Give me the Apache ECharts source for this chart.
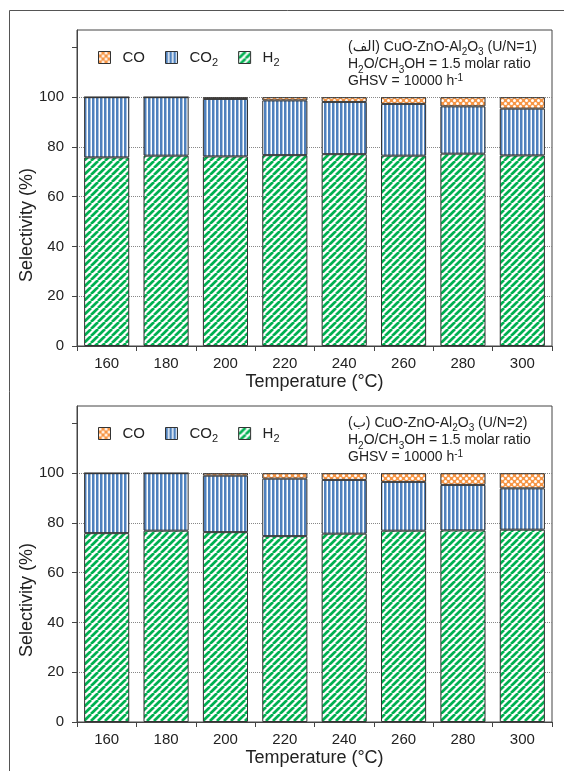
<!DOCTYPE html>
<html><head><meta charset="utf-8">
<script src="https://cdn.jsdelivr.net/npm/echarts@6/dist/echarts.min.js"></script>
<style>html,body{margin:0;padding:0;background:#fff}#c{width:564px;height:771px}</style>
</head><body><div id="c"></div>
<script>
// ---- data ----
const categories = ['160','180','200','220','240','260','280','300'];
const h2A  = [75.8, 76.5, 76.2, 76.7, 77.1, 76.5, 77.3, 76.6];
const co2A = [24.2, 23.5, 23.1, 22.0, 21.0, 20.8, 19.0, 18.8];
const coA  = [0.0, 0.0, 0.7, 1.3, 1.9, 2.7, 3.7, 4.6];
const h2B  = [75.9, 76.9, 76.3, 74.7, 75.7, 76.9, 77.0, 77.3];
const co2B = [24.1, 23.1, 22.7, 23.1, 21.6, 19.6, 18.3, 16.6];
const coB  = [0.0, 0.0, 1.0, 2.2, 2.7, 3.5, 4.7, 6.1];
const yTickValues = [0, 20, 40, 60, 80, 100, 120];
const yLabelValues = [0, 20, 40, 60, 80, 100];
const seriesNames = ['CO', 'CO2', 'H2'];

// ---- patterns ----
function mk(w, h, draw) { const c = document.createElement('canvas'); c.width = w; c.height = h; const g = c.getContext('2d'); draw(g, w, h); return c; }
const patH2 = mk(7, 7, (g, w, h) => {
  g.fillStyle = '#ffffff'; g.fillRect(0, 0, w, h);
  g.strokeStyle = '#00b050'; g.lineWidth = 2.7; g.beginPath();
  [-w, 0, w].forEach(x0 => { g.moveTo(x0, h); g.lineTo(x0 + w, 0); });
  g.stroke();
});
const patCO2 = mk(4, 4, (g, w, h) => {
  g.fillStyle = '#ffffff'; g.fillRect(0, 0, w, h);
  g.fillStyle = '#4f81bd'; g.fillRect(0, 0, 2.5, h);
});
const patCO = mk(6, 6, (g, w, h) => {
  g.fillStyle = '#f79646'; g.fillRect(0, 0, w, h);
  g.fillStyle = '#ffffff';
  [[1.5, 1.5], [4.5, 4.5]].forEach(([x, y]) => { g.beginPath(); g.arc(x, y, 1.5, 0, Math.PI * 2); g.fill(); });
});
const patterns = { CO: patCO, CO2: patCO2, H2: patH2 };

const FONT = "'Liberation Sans', Arial, 'DejaVu Sans', sans-serif";
const TXT = '#222';
const AX = '#444';

function gridCfg(top, bottom) {
  return { left: 77, right: 12, top: top, bottom: bottom, show: true, borderColor: AX, borderWidth: 1, backgroundColor: 'transparent' };
}
function xAxisCfg(i) {
  return {
    type: 'category', gridIndex: i, data: categories,
    axisLine: { lineStyle: { color: AX, width: 1 } },
    axisTick: { show: true, length: 5, lineStyle: { color: AX } },
    axisLabel: { fontSize: 15, color: TXT, fontFamily: FONT, margin: 10 },
    name: 'Temperature (°C)', nameLocation: 'middle', nameGap: 27,
    nameTextStyle: { fontSize: 18, color: TXT, fontFamily: FONT }
  };
}
function yAxisCfg(i) {
  return {
    type: 'value', gridIndex: i, min: 0, max: 127, interval: 20,
    axisLine: { show: true, lineStyle: { color: AX, width: 1 } },
    axisTick: { show: true, length: 5, lineStyle: { color: AX }, customValues: yTickValues },
    axisLabel: { fontSize: 15, color: TXT, fontFamily: FONT, margin: 13, customValues: yLabelValues,
      formatter: v => (v <= 100 ? String(v) : '') },
    splitLine: { show: true, lineStyle: { type: 'dotted', width: 1,
      color: ['rgba(0,0,0,0)', '#888', '#888', '#888', '#888', '#888', 'rgba(0,0,0,0)', 'rgba(0,0,0,0)'] } }
  };
}
function bar(name, data, i) {
  return {
    type: 'bar', name: name, data: data, stack: 'p' + i, xAxisIndex: i, yAxisIndex: i,
    barWidth: '76%',
    itemStyle: { color: { image: patterns[name], repeat: 'repeat' }, borderColor: '#333', borderWidth: 1 },
    emphasis: { disabled: true }
  };
}
function legendCfg(top) {
  return {
    data: seriesNames, left: 93, top: top, orient: 'horizontal', icon: 'rect',
    itemWidth: 12, itemHeight: 12, itemGap: 20, selectedMode: false,
    itemStyle: { borderColor: '#333', borderWidth: 1 },
    textStyle: { fontSize: 15, color: TXT, fontFamily: FONT, padding: [0, 0, 0, 7],
      rich: { s: { fontSize: 11, lineHeight: 22, verticalAlign: 'bottom', color: TXT, fontFamily: FONT } } },
    formatter: n => (n === 'CO2' ? 'CO{s|2}' : n === 'H2' ? 'H{s|2}' : n)
  };
}
const richAnn = {
  s: { fontSize: 10, lineHeight: 21, verticalAlign: 'bottom', fill: TXT, fontFamily: FONT },
  p: { fontSize: 10, lineHeight: 15, verticalAlign: 'top', fill: TXT, fontFamily: FONT }
};
function annLine(text, y) {
  return { type: 'text', x: 348, y: y, silent: true, z: 100,
    style: { text: text, rich: richAnn, fontSize: 14, fontFamily: FONT, fill: TXT,
      align: 'left', verticalAlign: 'middle', textAlign: 'left', textVerticalAlign: 'middle' } };
}
function yTitle(y) {
  return { type: 'text', x: 27, y: y, rotation: Math.PI / 2, silent: true,
    style: { text: 'Selectivity (%)', fontSize: 18, fontFamily: FONT, fill: TXT,
      align: 'center', verticalAlign: 'middle', textAlign: 'center', textVerticalAlign: 'middle' } };
}

const chart = echarts.init(document.getElementById('c'), null, { renderer: 'canvas' });
chart.setOption({
  animation: false,
  backgroundColor: '#fff',
  grid: [gridCfg(30, 425), gridCfg(406, 49)],
  xAxis: [xAxisCfg(0), xAxisCfg(1)],
  yAxis: [yAxisCfg(0), yAxisCfg(1)],
  legend: [legendCfg(45), legendCfg(421)],
  series: [
    bar('H2', h2A, 0), bar('CO2', co2A, 0), bar('CO', coA, 0),
    bar('H2', h2B, 1), bar('CO2', co2B, 1), bar('CO', coB, 1)
  ],
  graphic: [
    { type: 'rect', silent: true, shape: { x: 9.5, y: 10.5, width: 600, height: 800 },
      style: { fill: 'none', stroke: '#555', lineWidth: 1 } },
    yTitle(225), yTitle(600),
    annLine('(الف) CuO-ZnO-Al{s|2}O{s|3} (U/N=1)', 47),
    annLine('H{s|2}O/CH{s|3}OH = 1.5 molar ratio', 64.5),
    annLine('GHSV = 10000 h{p|-1}', 81),
    annLine('(ب) CuO-ZnO-Al{s|2}O{s|3} (U/N=2)', 423),
    annLine('H{s|2}O/CH{s|3}OH = 1.5 molar ratio', 440.5),
    annLine('GHSV = 10000 h{p|-1}', 457)
  ]
});
</script></body></html>
